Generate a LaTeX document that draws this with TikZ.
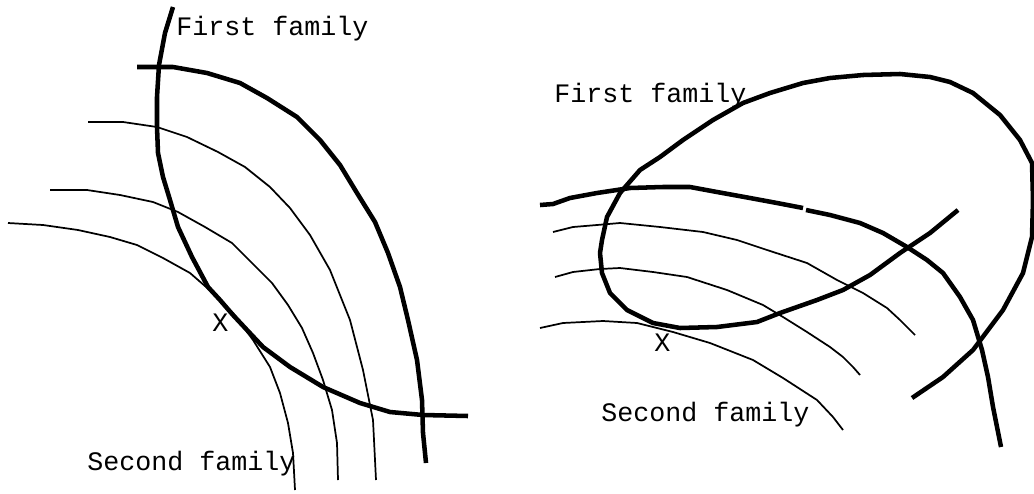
\documentclass[tikz,border=0pt]{standalone}
\usepackage{fontspec}
\setmonofont{Liberation Mono}
\tikzset{
  thickcurve/.style={line width=3.4pt, line join=round},
  thincurve/.style={line width=1.3pt, line join=round},
  label/.style={font=\ttfamily\fontsize{20}{24}\selectfont, inner sep=0pt, anchor=base west}
}
\begin{document}
\begin{tikzpicture}[x=0.75pt,y=-0.75pt]
\useasboundingbox (0,0) rectangle (1034,493);
% ---------- left panel ----------
\draw[thickcurve] (173,7) -- (165,33) -- (159,65) -- (157,97) -- (157,127) -- (158,153) -- (163,177) -- (170,200) -- (178,227) -- (192,257) -- (208,287) -- (220,300) -- (233,315) -- (247,330) -- (263,347) -- (290,367) -- (323,387) -- (360,403) -- (390,412) -- (423,415) -- (468,416);
\draw[thickcurve] (137,67) -- (173,67) -- (207,73) -- (240,83) -- (267,98) -- (297,117) -- (320,140) -- (340,165) -- (357,193) -- (375,222) -- (388,253) -- (400,287) -- (408,320) -- (417,360) -- (422,400) -- (423,433) -- (426,463);
\draw[thincurve] (88,122) -- (123,122) -- (157,127) -- (187,137) -- (218,152) -- (245,167) -- (270,187) -- (290,208) -- (310,235) -- (330,270) -- (350,320) -- (363,370) -- (373,420) -- (376,480);
\draw[thincurve] (50,190) -- (87,190) -- (120,195) -- (153,202) -- (178,212) -- (205,227) -- (232,243) -- (252,263) -- (272,283) -- (288,305) -- (302,328) -- (313,353) -- (323,380) -- (332,410) -- (337,443) -- (338,480);
\draw[thincurve] (8,223) -- (43,225) -- (78,230) -- (110,237) -- (137,245) -- (163,258) -- (190,273) -- (213,293) -- (233,313) -- (253,340) -- (270,367) -- (280,393) -- (288,423) -- (293,453) -- (295,490);
\node[label] (lfirst) at (176,35) {First family};
\node[label] (lx) at (212,331) {X};
\node[label] (lsecond) at (87,470) {Second family};
% ---------- right panel ----------
\draw[thickcurve] (912,398) -- (943,377) -- (973,350) -- (1003,310) -- (1023,273) -- (1032,237) -- (1033,200) -- (1032,163) -- (1020,140) -- (1000,115) -- (973,93) -- (950,82) -- (930,77) -- (900,74) -- (863,75) -- (830,78) -- (803,83) -- (770,93) -- (743,103) -- (713,120) -- (683,140) -- (660,157) -- (640,170) -- (620,193) -- (607,217) -- (602,240) -- (600,253) -- (602,273) -- (610,293) -- (627,310) -- (653,323) -- (680,328) -- (717,327) -- (757,322) -- (780,313) -- (817,300) -- (843,290) -- (870,275) -- (900,253) -- (930,233) -- (958,210);
\draw[thickcurve] (540,205) -- (553,204) -- (570,198) -- (597,193) -- (630,188) -- (663,187) -- (690,187) -- (717,192) -- (750,198) -- (777,203) -- (803,208);
\draw[thickcurve] (806,210) -- (830,215) -- (860,223) -- (883,233) -- (907,247) -- (927,260) -- (943,273) -- (960,297) -- (973,320) -- (982,350) -- (988,377) -- (993,407) -- (997,427) -- (1001,447);
\draw[thincurve] (553,232) -- (573,227) -- (597,225) -- (620,223) -- (660,227) -- (703,232) -- (737,240) -- (767,250) -- (807,263) -- (837,280) -- (863,293) -- (887,308) -- (900,320) -- (915,335);
\draw[thincurve] (555,277) -- (573,272) -- (600,269) -- (620,268) -- (653,272) -- (687,277) -- (727,290) -- (763,305) -- (783,317) -- (807,332) -- (830,347) -- (843,357) -- (853,367) -- (860,375);
\draw[thincurve] (540,328) -- (563,323) -- (603,321) -- (637,323) -- (673,332) -- (710,343) -- (753,360) -- (783,378) -- (817,400) -- (833,417) -- (843,430);
\node[label] (rfirst) at (554,102) {First family};
\node[label] (rx) at (654,351) {X};
\node[label] (rsecond) at (601,421) {Second family};
\end{tikzpicture}
\end{document}
